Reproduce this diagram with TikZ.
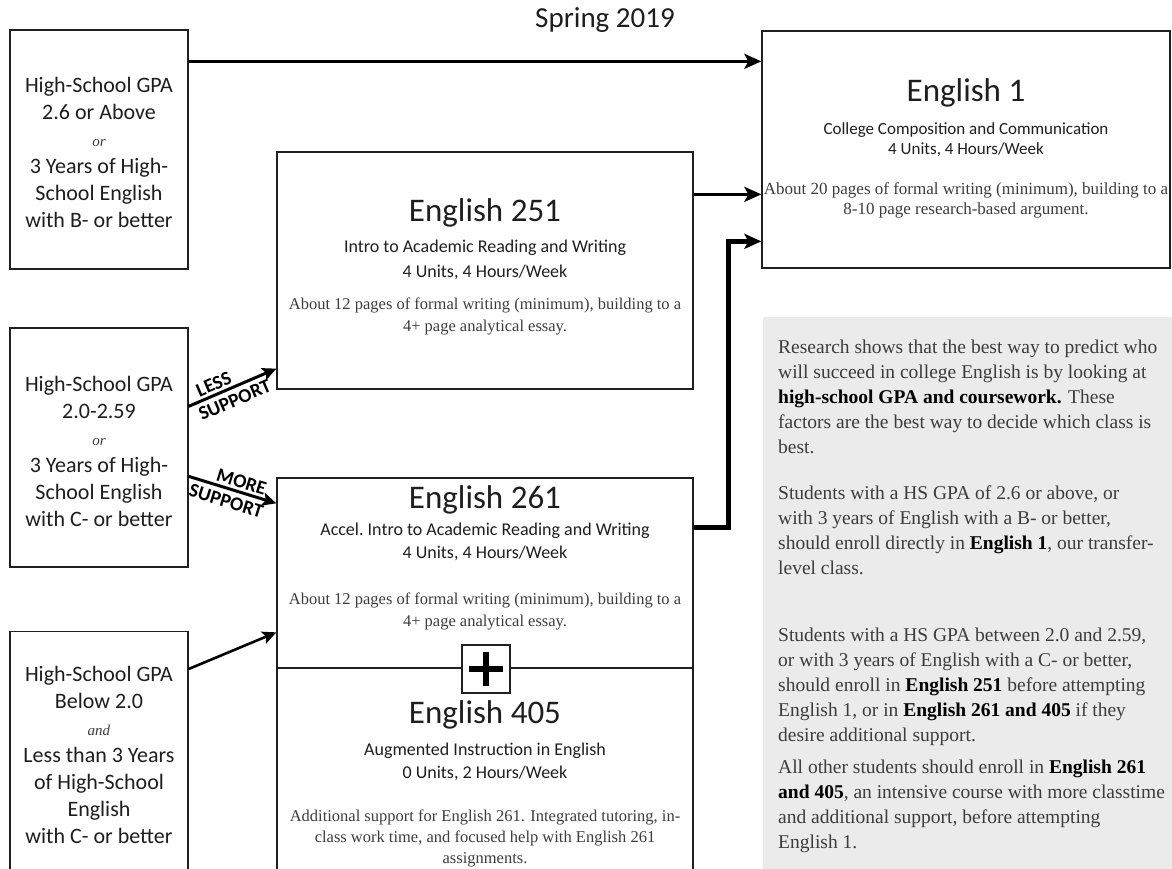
\documentclass[tikz,border=0pt]{standalone}
\usepackage{fontspec}
\setmainfont{Liberation Serif}
\setsansfont{Carlito}
\usetikzlibrary{arrows.meta}
\definecolor{panelgray}{HTML}{EBEBEB}
\definecolor{ink}{HTML}{1E1E1E}
\definecolor{descgray}{HTML}{3C3C3C}
\definecolor{boxline}{HTML}{202020}
\newcommand\fsz[2]{\fontsize{#1}{#2}\selectfont}
\newcommand\orword[1]{{\rmfamily\itshape\fsz{15}{27}\color{descgray}#1}}
\begin{document}
\begin{tikzpicture}[x=1pt,y=-1pt,
  box/.style={draw=boxline, line width=1.3pt, rectangle, inner sep=0pt},
  reqtxt/.style={font=\sffamily\fsz{22}{27}, align=center, inner sep=0pt, text=ink},
  ctitle/.style={font=\sffamily\fsz{33}{36}, inner sep=0pt, text=ink},
  csub/.style={font=\sffamily\fsz{18}{24}, align=center, inner sep=0pt, text=ink},
  cdesc/.style={font=\rmfamily\fsz{16.5}{22}, align=center, inner sep=0pt, text=descgray},
  ptext/.style={font=\rmfamily\fsz{19.5}{25}, align=left, anchor=west, inner sep=0pt, text=descgray},
  arr/.style={line width=3pt, draw=black, -{Stealth[length=17pt,width=15pt,inset=4pt]}},
  arrthick/.style={line width=4.5pt, draw=black, -{Stealth[length=17pt,width=15pt,inset=4pt]}},
  arrsup/.style={line width=3pt, draw=black, -{Stealth[length=14pt,width=13pt,inset=3pt]}},
  suplbl/.style={font=\sffamily\bfseries\fsz{19.5}{23}, align=center, inner sep=0pt, text=black, sloped}
]
\useasboundingbox (0,0) rectangle (1172,869);
\clip (0,0) rectangle (1172,869);

% background panel
\node[rectangle, fill=panelgray, inner sep=0pt, minimum width=420pt, minimum height=570pt, anchor=north west] (panel) at (763,317) {};

% title
\node[font=\sffamily\fsz{29}{32}, text=ink, inner sep=0pt] (title) at (605,20) {Spring 2019};

% requirement boxes
\node[box, minimum width=178pt, minimum height=239pt] (reqA) at (99,149.5) {};
\node[reqtxt] (reqAt) at (99,152) {High-School GPA\\2.6 or Above\\\orword{or}\\3 Years of High-\\School English\\with B- or better};

\node[box, minimum width=178pt, minimum height=239pt] (reqB) at (99,447.5) {};
\node[reqtxt] (reqBt) at (99,451) {High-School GPA\\2.0-2.59\\\orword{or}\\3 Years of High-\\School English\\with C- or better};

\node[box, minimum width=178pt, minimum height=260pt, anchor=north] (reqC) at (99,631) {};
\node[reqtxt] (reqCt) at (99,755) {High-School GPA\\Below 2.0\\\orword{and}\\Less than 3 Years\\of High-School\\English\\with C- or better};

% English 1
\node[box, minimum width=408pt, minimum height=237pt] (e1) at (966,149.5) {};
\node[ctitle] (e1t) at (966,93) {English 1};
\node[csub, font=\sffamily\fsz{17}{20}] (e1s) at (966,140) {College Composition and Communication\\4 Units, 4 Hours/Week};
\node[cdesc, font=\rmfamily\fsz{17}{20}] (e1d) at (966,200) {About 20 pages of formal writing (minimum), building to a\\8-10 page research-based argument.};

% English 251
\node[box, minimum width=416pt, minimum height=237pt] (e251) at (485,270.5) {};
\node[ctitle] (e251t) at (485,213) {English 251};
\node[csub, font=\sffamily\fsz{18}{25}] (e251s) at (485,259.5) {Intro to Academic Reading and Writing\\4 Units, 4 Hours/Week};
\node[cdesc] (e251d) at (485,316) {About 12 pages of formal writing (minimum), building to a\\4+ page analytical essay.};

% English 261
\node[box, minimum width=416pt, minimum height=190pt] (e261) at (485,573) {};
\node[ctitle] (e261t) at (485,500) {English 261};
\node[csub, font=\sffamily\fsz{18}{23}] (e261s) at (485,541.5) {Accel.\ Intro to Academic Reading and Writing\\4 Units, 4 Hours/Week};
\node[cdesc] (e261d) at (485,611) {About 12 pages of formal writing (minimum), building to a\\4+ page analytical essay.};

% English 405
\node[box, minimum width=416pt, minimum height=240pt, anchor=north] (e405) at (485,668) {};
\node[ctitle] (e405t) at (485,715) {English 405};
\node[csub, font=\sffamily\fsz{18}{23}] (e405s) at (485,761.5) {Augmented Instruction in English\\0 Units, 2 Hours/Week};
\node[cdesc, font=\rmfamily\fsz{16.5}{21}] (e405d) at (485,838) {Additional support for English 261. Integrated tutoring, in-\\class work time, and focused help with English 261\\assignments.};

% plus box
\node[box, fill=white, minimum width=48pt, minimum height=48pt] (plus) at (486,669) {};
\draw[line width=6pt] ([xshift=-17pt]plus.center) -- ([xshift=17pt]plus.center);
\draw[line width=6pt] ([yshift=-17pt]plus.center) -- ([yshift=17pt]plus.center);

% panel text
\node[ptext] (p1) at (778,397) {Research shows that the best way to predict who\\will succeed in college English is by looking at\\\textcolor{black}{\textbf{high-school GPA and coursework.}} These\\factors are the best way to decide which class is\\best.};
\node[ptext] (p2) at (778,530.5) {Students with a HS GPA of 2.6 or above, or\\with 3 years of English with a B- or better,\\should enroll directly in \textcolor{black}{\textbf{English 1}}, our transfer-\\level class.};
\node[ptext] (p3) at (778,687) {Students with a HS GPA between 2.0 and 2.59,\\or with 3 years of English with a C- or better,\\should enroll in \textcolor{black}{\textbf{English 251}} before attempting\\English 1, or in \textcolor{black}{\textbf{English 261 and 405}} if they\\desire additional support.};
\node[ptext] (p4) at (778,806.5) {All other students should enroll in \textcolor{black}{\textbf{English 261}}\\\textcolor{black}{\textbf{and 405}}, an intensive course with more classtime\\and additional support, before attempting\\English 1.};

% connectors
\draw[arr] ([yshift=-32pt]reqA.north east) coordinate (sA) -- (sA -| e1.west);
\draw[arr] ([yshift=-43pt]e251.north east) coordinate (s251) -- (s251 -| e1.west);
\draw[arrthick] ([yshift=-50pt]e261.north east) -- ++(35,0) |- ([yshift=-211pt]e1.north west);
\draw[arrsup] ([yshift=-79pt]reqB.north east) -- ([yshift=21pt]e251.south west)
  node[suplbl, pos=0.47, yshift=-1pt] (lessl) {LESS\hspace*{26pt}\\SUPPORT};
\draw[arrsup] ([yshift=-149pt]reqB.north east) -- ([yshift=-26pt]e261.north west)
  node[suplbl, pos=0.47, yshift=-1pt] (morel) {\hspace*{18pt}MORE\\SUPPORT};
\draw[arrsup, line width=2.6pt] ([yshift=-38pt]reqC.north east) -- ([yshift=-155pt]e261.north west);
\end{tikzpicture}
\end{document}
